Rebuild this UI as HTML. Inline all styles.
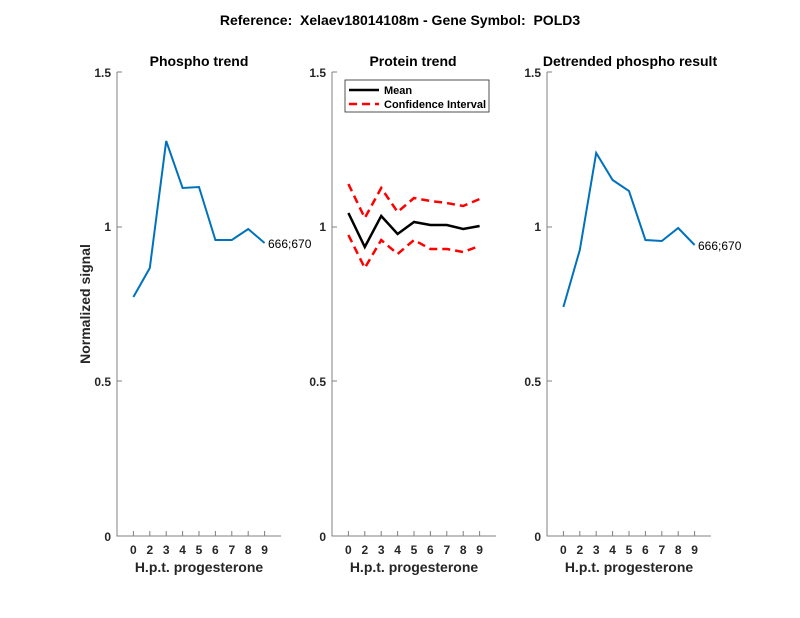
<!DOCTYPE html>
<html><head><style>body{margin:0;background:#fff}svg{display:block}text{font-family:"Liberation Sans",sans-serif}</style></head><body>
<svg width="800" height="618" viewBox="0 0 800 618">
<text x="400" y="25" font-size="14" font-weight="bold" text-anchor="middle" xml:space="preserve">Reference:  Xelaev18014108m - Gene Symbol:  POLD3</text>
<g font-size="12" fill="#262626" stroke="none">
<g>
<text x="199" y="66" font-size="14" font-weight="bold" text-anchor="middle" fill="#000">Phospho trend</text>
<path d="M117,72V536H281" fill="none" stroke="#808080"/>
<path d="M117,72h5M117,227h5M117,381h5M133.4,536v-5M149.8,536v-5M166.2,536v-5M182.6,536v-5M199,536v-5M215.4,536v-5M231.8,536v-5M248.2,536v-5M264.6,536v-5" stroke="#808080"/>
<g font-weight="bold" text-anchor="end"><text x="111" y="77">1.5</text><text x="111" y="231">1</text><text x="111" y="386">0.5</text><text x="111" y="541">0</text></g>
<g font-weight="bold" text-anchor="middle"><text x="133.4" y="554">0</text><text x="149.8" y="554">2</text><text x="166.2" y="554">3</text><text x="182.6" y="554">4</text><text x="199" y="554">5</text><text x="215.4" y="554">6</text><text x="231.8" y="554">7</text><text x="248.2" y="554">8</text><text x="264.6" y="554">9</text></g>
<text x="199" y="572" font-size="14" font-weight="bold" text-anchor="middle">H.p.t. progesterone</text>
<text transform="translate(90,304) rotate(-90)" font-size="14" font-weight="bold" text-anchor="middle">Normalized signal</text>
<polyline points="133.4,297 149.8,268 166.2,141 182.6,188 199,187 215.4,240 231.8,240 248.2,229 264.6,243" fill="none" stroke="#0072BD" stroke-width="2"/>
<text x="268" y="248" fill="#000">666;670</text>
</g>
<g>
<text x="413" y="66" font-size="14" font-weight="bold" text-anchor="middle" fill="#000">Protein trend</text>
<path d="M332,72V536H496" fill="none" stroke="#808080"/>
<path d="M332,72h5M332,227h5M332,381h5M348.4,536v-5M364.8,536v-5M381.2,536v-5M397.6,536v-5M414,536v-5M430.4,536v-5M446.8,536v-5M463.2,536v-5M479.6,536v-5" stroke="#808080"/>
<g font-weight="bold" text-anchor="end"><text x="326" y="77">1.5</text><text x="326" y="231">1</text><text x="326" y="386">0.5</text><text x="326" y="541">0</text></g>
<g font-weight="bold" text-anchor="middle"><text x="348.4" y="554">0</text><text x="364.8" y="554">2</text><text x="381.2" y="554">3</text><text x="397.6" y="554">4</text><text x="414" y="554">5</text><text x="430.4" y="554">6</text><text x="446.8" y="554">7</text><text x="463.2" y="554">8</text><text x="479.6" y="554">9</text></g>
<text x="414" y="572" font-size="14" font-weight="bold" text-anchor="middle">H.p.t. progesterone</text>
<polyline points="348.4,184 364.8,218 381.2,188 397.6,212 414,198 430.4,201 446.8,203 463.2,206 479.6,199" fill="none" stroke="#f00" stroke-width="2.5" stroke-dasharray="8,5"/>
<polyline points="348.4,235 364.8,268 381.2,240 397.6,254 414,240 430.4,249 446.8,249 463.2,252 479.6,246" fill="none" stroke="#f00" stroke-width="2.5" stroke-dasharray="8,5"/>
<polyline points="348.4,213 364.8,247 381.2,216 397.6,234 414,222 430.4,225 446.8,225 463.2,229 479.6,226" fill="none" stroke="#000" stroke-width="2.5"/>
<rect x="345" y="80" width="144" height="32" fill="#fff" stroke="#262626" stroke-width="0.8"/>
<line x1="349" y1="90" x2="379" y2="90" stroke="#000" stroke-width="2.5"/>
<line x1="349" y1="104" x2="379" y2="104" stroke="#f00" stroke-width="2.5" stroke-dasharray="8,5"/>
<text x="384" y="94" font-size="11" font-weight="bold" fill="#000">Mean</text>
<text x="384" y="108" font-size="11" font-weight="bold" fill="#000">Confidence Interval</text>
</g>
<g>
<text x="630" y="66" font-size="14" font-weight="bold" text-anchor="middle" fill="#000">Detrended phospho result</text>
<path d="M547,72V536H711" fill="none" stroke="#808080"/>
<path d="M547,72h5M547,227h5M547,381h5M563.4,536v-5M579.8,536v-5M596.2,536v-5M612.6,536v-5M629,536v-5M645.4,536v-5M661.8,536v-5M678.2,536v-5M694.6,536v-5" stroke="#808080"/>
<g font-weight="bold" text-anchor="end"><text x="541" y="77">1.5</text><text x="541" y="231">1</text><text x="541" y="386">0.5</text><text x="541" y="541">0</text></g>
<g font-weight="bold" text-anchor="middle"><text x="563.4" y="554">0</text><text x="579.8" y="554">2</text><text x="596.2" y="554">3</text><text x="612.6" y="554">4</text><text x="629" y="554">5</text><text x="645.4" y="554">6</text><text x="661.8" y="554">7</text><text x="678.2" y="554">8</text><text x="694.6" y="554">9</text></g>
<text x="629" y="572" font-size="14" font-weight="bold" text-anchor="middle">H.p.t. progesterone</text>
<polyline points="563.4,307 579.8,250 596.2,153 612.6,180 629,191 645.4,240 661.8,241 678.2,228 694.6,245" fill="none" stroke="#0072BD" stroke-width="2"/>
<text x="698" y="250" fill="#000">666;670</text>
</g>
</g>
</svg>
</body></html>
